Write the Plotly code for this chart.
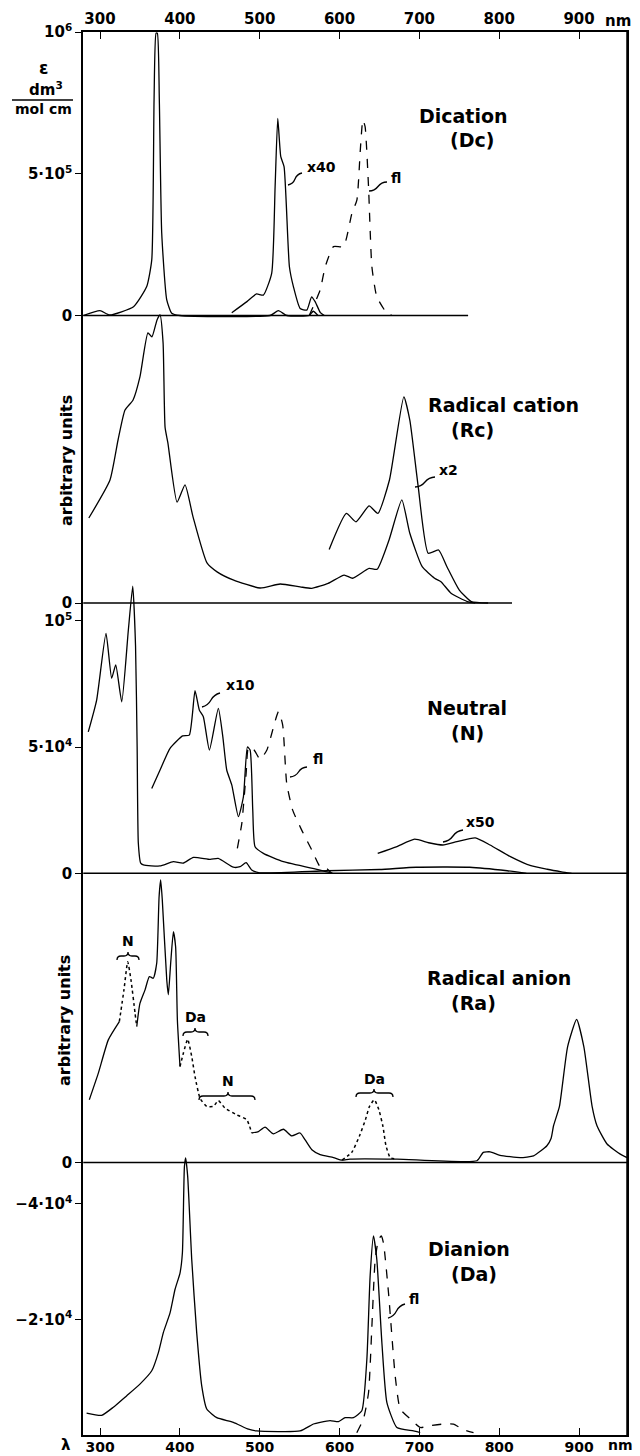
import plotly.graph_objects as go

# ---------------- data (wavelength in nm) ----------------
# Dication (Dc): epsilon in dm3/(mol cm)
DC_NM = [279, 300, 312, 342, 358.5, 364.8, 367.7, 370.2, 371.8, 374.3, 377.3, 383.6, 389.8, 400, 513, 523.4, 534, 562, 567, 573]
DC_EPS = [0, 1.7e4, 0.2e4, 3.1e4, 10.2e4, 19.6e4, 76e4, 99.6e4, 99.6e4, 76e4, 29e4, 5.5e4, 0.8e4, 0, 0, 1.7e4, 0, 0, 1.5e4, 0]
DC_X40_NM = [465, 484, 496, 504.6, 515, 519.3, 522.6, 526.4, 530.5, 537.2, 542.2, 550.6, 559, 565, 569.4, 576, 581]
DC_X40_EPS = [1e4, 4.9e4, 7.6e4, 7.2e4, 14.9e4, 45.4e4, 69.5e4, 56e4, 52.5e4, 17.2e4, 10.2e4, 2.5e4, 1.9e4, 6.6e4, 4.9e4, 1e4, 0]
DC_FL_NM = [562, 575.7, 582, 592.4, 605, 615.4, 621.7, 626, 629.2, 632, 636.3, 640.5, 646.7, 659.3, 665.6]
DC_FL_EPS = [0, 9e4, 17.2e4, 24.3e4, 24.3e4, 36e4, 40.7e4, 58.4e4, 69e4, 66.6e4, 45.4e4, 17.2e4, 6.6e4, 0.8e4, 0]
DC_BASE_NM = [279, 761]

# Radical cation (Rc): arbitrary units
RC_NM = [286, 312.5, 322.6, 331.3, 341.4, 350, 360, 365, 371.4, 375.2, 379, 381.5, 385, 396.5, 406.5, 416.5, 434, 446.6,
         466.7, 500.5, 525.6, 550.6, 565, 585.7, 605.8, 616.4, 637, 647, 662, 678, 688, 703.5, 719, 727, 739.6, 760, 770]
RC_VAL = [29.5, 42.7, 56.6, 67, 70.5, 78.5, 93.8, 92.4, 98.3, 100, 90.3, 61, 55.6, 35, 41, 29.9, 13.9, 10.8,
          8, 5.2, 6.6, 5.6, 5.1, 6.8, 9.7, 8.6, 12, 11.7, 21.9, 35.8, 24.2, 12.6, 8.6, 7.4, 3.4, 0.5, 0]
RC_X2_NM = [587, 608.5, 620.5, 637, 648, 662.5, 680.5, 688, 698.5, 711, 724, 734.5, 750, 765, 786]
RC_X2_VAL = [18.6, 31.1, 28.2, 33.7, 31.1, 42.7, 71.6, 63.5, 40.4, 17.3, 18.4, 12.6, 4.5, 0.5, 0]
RC_BASE_NM = [279, 816]

# Neutral (N): epsilon
N_NM = [285.3, 295.8, 307.5, 314.6, 319.7, 327.2, 335.5, 341, 344.5, 346.5, 348, 351, 354.3, 375, 391.9, 404, 417, 438, 448,
        467, 475.4, 483, 490, 500, 584, 650, 696, 763, 810, 834]
N_EPS = [5.6e4, 6.86e4, 9.5e4, 7.72e4, 8.25e4, 6.79e4, 9.63e4, 11.37e4, 9e4, 5e4, 1.19e4, 0.4e4, 0.33e4, 0.29e4, 0.46e4, 0.4e4, 0.63e4, 0.55e4, 0.59e4,
         0.24e4, 0.26e4, 0.42e4, 0.13e4, 0.02e4, 0.1e4, 0.15e4, 0.24e4, 0.24e4, 0.1e4, 0]
N_X10_NM = [364.8, 375.2, 387.7, 403.5, 411.8, 419, 424.4, 429.4, 437, 448.2, 453.8, 458.7, 465, 473.3, 479.6, 484.6, 488,
            491.3, 494.2, 504.6, 529.6, 575.7, 591.5]
N_X10_EPS = [3.36e4, 4.09e4, 4.95e4, 5.44e4, 5.47e4, 7.23e4, 6.46e4, 6.2e4, 4.88e4, 6.53e4, 5.41e4, 4.09e4, 3.5e4, 2.24e4,
             3.03e4, 5.0e4, 4.88e4, 2.5e4, 1.05e4, 0.79e4, 0.46e4, 0.13e4, 0]
N_FL_NM = [472, 477.6, 483, 486, 493, 500.5, 509, 523.5, 528.8, 533.8, 541.3, 552.6, 565.3, 575.7, 583.7, 590]
N_FL_EPS = [0.99e4, 1.98e4, 3.96e4, 5e4, 4.88e4, 4.51e4, 4.88e4, 6.4e4, 5.87e4, 3.56e4, 2.5e4, 1.71e4, 0.92e4, 0.26e4, 0.2e4, 0]
N_X50_NM = [647.8, 671, 694, 711.6, 729.3, 747, 770, 788.5, 814, 839.6, 860, 878, 890.6]
N_X50_EPS = [0.79e4, 1.05e4, 1.35e4, 1.21e4, 1.12e4, 1.25e4, 1.4e4, 1.12e4, 0.66e4, 0.3e4, 0.16e4, 0.06e4, 0]
N_BASE_NM = [279, 960]

# Radical anion (Ra): arbitrary units; solid = Ra, dotted = N / Da contributions
RA_A_NM = [286.6, 297.9, 310.4, 324.2]
RA_A_VAL = [21.7, 30.9, 42.4, 48.7]
RA_B_NM = [346, 350, 356.4, 361.8, 366.7, 371, 374, 376, 378, 383.6, 385.6, 388.5, 391.9, 394.7, 396.9, 400.2]
RA_B_VAL = [47, 55, 59.7, 64.3, 63.7, 68.9, 91.9, 97.7, 90.8, 63.1, 58, 68.9, 79.8, 74.6, 49.3, 33.2]
RA_C_NM = [490, 498.4, 506.7, 517.2, 529.7, 540.1, 550.6, 556.9, 565.3, 575.7, 592.4, 603, 613, 672, 772, 780, 788.7, 801,
           826.3, 843, 859.7, 865, 868, 875.4, 885.6, 896.9, 906, 916.3, 922.4, 935, 951.6, 960]
RA_C_VAL = [10.2, 10.7, 12.2, 9.9, 11.5, 9.2, 10.2, 7.8, 4.4, 2.7, 1.7, 0.8, 1.2, 1.2, 0.6, 3.5, 3.7, 2.5,
            1.7, 2.3, 5.8, 8.4, 12.7, 19.4, 40, 49.5, 40, 19.4, 12.7, 6.4, 2.9, 1.7]
RA_N1_NM = [324.2, 330, 334.7, 338.8, 343.9, 346]
RA_N1_VAL = [48.7, 59.7, 69.4, 63.1, 51.6, 47]
RA_DA1_NM = [400.2, 404.4, 409.8, 414.9, 419, 425.3, 433.7, 442, 448.2, 456.5, 471.2, 483.8, 490]
RA_DA1_VAL = [33.2, 37.8, 42.6, 36.6, 29.7, 22.2, 19.4, 19.4, 21.4, 18.8, 16.5, 14.8, 10.2]
RA_DA2_NM = [603, 615.3, 624.7, 632.4, 637.5, 643.6, 649.3, 654.4, 658, 663.4, 669.7]
RA_DA2_VAL = [0.8, 3.5, 9, 14.8, 19.4, 21.7, 18.2, 12.4, 6, 1.7, 1.2]
RA_BASE_NM = [279, 960]

# Dianion (Da): epsilon
DA_NM = [283.2, 302, 316.7, 333.5, 350, 364.8, 373, 379.3, 387.7, 394, 400.2, 403.2, 405.7, 407.3, 409.8, 414.9, 421.1,
         427.4, 433.7, 446.2, 467, 485.9, 496.3, 550.6, 567.3, 575.7, 588.2, 598.7, 607, 617.4, 627.9, 634.2, 638.3,
         642.5, 646.7, 653, 659.3, 671.8, 692.6, 701]
DA_EPS = [0.38e4, 0.34e4, 0.48e4, 0.68e4, 0.88e4, 1.11e4, 1.42e4, 1.77e4, 2.11e4, 2.52e4, 2.8e4, 3.15e4, 4.64e4, 4.79e4,
          4.47e4, 3.03e4, 1.77e4, 0.85e4, 0.45e4, 0.3e4, 0.22e4, 0.1e4, 0.07e4, 0.07e4, 0.19e4, 0.22e4, 0.25e4, 0.23e4,
          0.3e4, 0.3e4, 0.42e4, 1.31e4, 2.75e4, 3.44e4, 3.03e4, 1.6e4, 0.56e4, 0.13e4, 0.07e4, 0.04e4]
DA_FL_NM = [621.6, 630, 636.3, 640.5, 644.6, 648.8, 652.2, 655, 661.3, 669.7, 676, 688.5, 701, 713.5, 730.2, 742.7, 755.3, 767.8]
DA_FL_EPS = [0.04e4, 0.28e4, 0.73e4, 1.88e4, 3.03e4, 3.38e4, 3.44e4, 3.32e4, 2.46e4, 1.02e4, 0.45e4, 0.28e4, 0.13e4,
             0.16e4, 0.19e4, 0.19e4, 0.09e4, 0.04e4]

X_TICKS = [300, 400, 500, 600, 700, 800, 900]
X_RANGE = [278.7, 960]

# ---------------- layout helpers ----------------
W, H_FIG = 640, 1456
L, R, T, B = 83, 627, 32, 1435
PW, PH = R - L, B - T
FONT = "DejaVu Sans"


def panel(zero_px, ref_px, ref_val, top_px, bot_px):
    k = ref_val / (zero_px - ref_px)
    return ([(B - bot_px) / PH, (B - top_px) / PH],
            [(zero_px - bot_px) * k, (zero_px - top_px) * k])


def px(x, y):
    return (x - L) / PW, (B - y) / PH


DOM_DC, RNG_DC = panel(315.5, 32, 1e6, 32, 318)
DOM_RC, RNG_RC = panel(603, 315, 100, 311, 605)
DOM_N, RNG_N = panel(873.3, 620.7, 1e5, 582, 875)
DOM_RA, RNG_RA = panel(1162.5, 873.3, 100, 870, 1164)
DOM_DA, RNG_DA = panel(1435, 1319.3, 2e4, 1153, 1435)

fig = go.Figure()


def line(x, y, yaxis, dash="solid", width=1.3):
    fig.add_trace(go.Scatter(x=x, y=y, xaxis="x", yaxis=yaxis, mode="lines",
                             line=dict(color="black", width=width, dash=dash, shape="spline", smoothing=0.5),
                             showlegend=False, hoverinfo="skip"))


def base(xs, yaxis):
    fig.add_trace(go.Scatter(x=xs, y=[0] * len(xs), xaxis="x", yaxis=yaxis, mode="lines",
                             line=dict(color="black", width=1.4), showlegend=False, hoverinfo="skip"))


# Dc
base(DC_BASE_NM, "y")
line(DC_NM, DC_EPS, "y")
line(DC_X40_NM, DC_X40_EPS, "y")
line(DC_FL_NM, DC_FL_EPS, "y", dash="dash")
# Rc
base(RC_BASE_NM, "y2")
line(RC_NM, RC_VAL, "y2")
line(RC_X2_NM, RC_X2_VAL, "y2")
# N
base(N_BASE_NM, "y3")
line(N_NM, N_EPS, "y3")
line(N_X10_NM, N_X10_EPS, "y3")
line(N_FL_NM, N_FL_EPS, "y3", dash="dash")
line(N_X50_NM, N_X50_EPS, "y3")
# Ra
base(RA_BASE_NM, "y4")
line(RA_A_NM, RA_A_VAL, "y4")
line(RA_B_NM, RA_B_VAL, "y4")
line(RA_C_NM, RA_C_VAL, "y4")
line(RA_N1_NM, RA_N1_VAL, "y4", dash="dot", width=1.5)
line(RA_DA1_NM, RA_DA1_VAL, "y4", dash="dot", width=1.5)
line(RA_DA2_NM, RA_DA2_VAL, "y4", dash="dot", width=1.5)
# Da
line(DA_NM, DA_EPS, "y5")
line(DA_FL_NM, DA_FL_EPS, "y5", dash="dash")
# dummy trace so the top axis is drawn
fig.add_trace(go.Scatter(x=[None], y=[None], xaxis="x2", yaxis="y", showlegend=False, hoverinfo="skip"))

tickfont = dict(family=FONT, size=15, color="black", weight="bold")


def yax(dom, rng, vals, text):
    return dict(domain=dom, range=rng, anchor="x", showline=True, linecolor="black", linewidth=1.5,
                mirror=True, ticks="outside", ticklen=6, tickwidth=1.4, tickcolor="black",
                tickvals=vals, ticktext=text, tickfont=tickfont, showgrid=False, zeroline=False,
                fixedrange=True, automargin=False)


xcommon = dict(range=X_RANGE, tickvals=X_TICKS, ticktext=[str(v) for v in X_TICKS], ticks="inside",
               ticklen=7, tickwidth=1.4, tickcolor="black", showline=True, linecolor="black", linewidth=1.5,
               showgrid=False, zeroline=False, automargin=False)

fig.update_layout(
    width=W, height=H_FIG, margin=dict(l=L, r=W - R, t=T, b=H_FIG - B, autoexpand=False),
    paper_bgcolor="white", plot_bgcolor="rgba(0,0,0,0)",
    xaxis=dict(domain=[0, 1], anchor="y5", side="bottom", tickfont=dict(tickfont, size=14),
               ticklabelstandoff=-2, **xcommon),
    xaxis2=dict(domain=[0, 1], anchor="y", side="top", overlaying="x", matches="x", tickfont=tickfont,
                **xcommon),
    yaxis=yax(DOM_DC, RNG_DC, [0, 5e5, 1e6], ["0", "5·10<sup>5</sup>", "10<sup>6</sup>"]),
    yaxis2=yax(DOM_RC, RNG_RC, [0], ["0"]),
    yaxis3=yax(DOM_N, RNG_N, [0, 5e4, 1e5], ["0", "5·10<sup>4</sup>", "10<sup>5</sup>"]),
    yaxis4=yax(DOM_RA, RNG_RA, [0], ["0"]),
    yaxis5=yax(DOM_DA, RNG_DA, [2e4, 4e4], ["−2·10<sup>4</sup>", "−4·10<sup>4</sup>"]),
)

annots = []
shapes = []


def text(t, x, y, size=15, anchor="center", angle=0):
    xp, yp = px(x, y)
    annots.append(dict(text=t, x=xp, y=yp, xref="paper", yref="paper", xanchor=anchor, yanchor="middle",
                       showarrow=False, textangle=angle,
                       font=dict(family=FONT, size=size, color="black", weight="bold")))


def squiggle(x0, y0, x1, y1, amp=2.5):
    mx, my = (x0 + x1) / 2, (y0 + y1) / 2
    dx, dy = x1 - x0, y1 - y0
    n = (dx * dx + dy * dy) ** 0.5
    nx, ny = -dy / n * amp, dx / n * amp
    c1 = ((x0 + mx) / 2 + nx, (y0 + my) / 2 + ny)
    c2 = ((mx + x1) / 2 - nx, (my + y1) / 2 - ny)
    pts = [(x0, y0), c1, (mx, my), c2, (x1, y1)]
    pp = [px(*p) for p in pts]
    path = "M {:.5f},{:.5f} Q {:.5f},{:.5f} {:.5f},{:.5f} Q {:.5f},{:.5f} {:.5f},{:.5f}".format(
        pp[0][0], pp[0][1], pp[1][0], pp[1][1], pp[2][0], pp[2][1], pp[3][0], pp[3][1], pp[4][0], pp[4][1])
    shapes.append(dict(type="path", path=path, xref="paper", yref="paper", line=dict(color="black", width=1.3)))


def brace(x0, x1, xm, y, h=4):
    pts = [(x0, y + h), (x0, y), (x0 + h, y), (xm - h, y), (xm, y), (xm, y - h), (xm, y), (xm + h, y),
           (x1 - h, y), (x1, y), (x1, y + h)]
    pp = [px(*p) for p in pts]
    f = lambda p: "{:.5f},{:.5f}".format(*p)
    path = ("M " + f(pp[0]) + " Q " + f(pp[1]) + " " + f(pp[2]) + " L " + f(pp[3]) + " Q " + f(pp[4]) + " " + f(pp[5])
            + " Q " + f(pp[6]) + " " + f(pp[7]) + " L " + f(pp[8]) + " Q " + f(pp[9]) + " " + f(pp[10]))
    shapes.append(dict(type="path", path=path, xref="paper", yref="paper", line=dict(color="black", width=1.3)))


# panel titles
text("Dication", 417, 116, size=19, anchor="left")
text("(Dc)", 448, 140, size=19, anchor="left")
text("Radical cation", 426, 405, size=19, anchor="left")
text("(Rc)", 449, 430, size=19, anchor="left")
text("Neutral", 425, 708, size=19, anchor="left")
text("(N)", 449, 733, size=19, anchor="left")
text("Radical anion", 425, 978, size=19, anchor="left")
text("(Ra)", 449, 1003, size=19, anchor="left")
text("Dianion", 426, 1249, size=19, anchor="left")
text("(Da)", 449, 1274, size=19, anchor="left")

# multiplier / fl labels with squiggle leaders
squiggle(288, 185, 302, 173); text("x40", 305, 167, size=14, anchor="left")
squiggle(369, 191, 387, 182); text("fl", 389, 178, size=14, anchor="left")
squiggle(415, 487, 435, 477); text("x2", 437, 470, size=14, anchor="left")
squiggle(202, 707, 220, 693); text("x10", 224, 685, size=14, anchor="left")
squiggle(290, 777, 307, 767); text("fl", 311, 759, size=14, anchor="left")
squiggle(443, 842, 463, 830); text("x50", 464, 822, size=14, anchor="left")
squiggle(388, 1318, 405, 1304); text("fl", 407, 1299, size=14, anchor="left")

# braces in radical anion panel
brace(117, 139, 128, 956); text("N", 128, 941, size=14)
brace(183, 208, 195, 1032); text("Da", 195, 1017, size=14)
brace(199, 255, 228, 1096); text("N", 228, 1081, size=14)
brace(356, 393, 374, 1093); text("Da", 374, 1079, size=14)

# axis titles
text("arbitrary units", 66, 461, size=16, angle=-90)
text("arbitrary units", 64, 1021, size=16, angle=-90)
text("ε", 43, 68, size=17)
text("dm<sup>3</sup>", 46, 89, size=15)
text("mol cm", 43, 109, size=14)
p0, p1 = px(12, 100), px(73, 100)
shapes.append(dict(type="line", x0=p0[0], y0=p0[1], x1=p1[0], y1=p1[1], xref="paper", yref="paper",
                   line=dict(color="black", width=1.4)))
# right frame line
shapes.append(dict(type="line", x0=1, y0=0, x1=1, y1=1, xref="paper", yref="paper",
                   line=dict(color="black", width=1.5)))
text("nm", 618, 21, size=15)
text("nm", 620, 1445, size=14)
text("λ", 66, 1445, size=15)

fig.update_layout(annotations=annots, shapes=shapes)
fig.write_html("out.html", config={"displayModeBar": False},
               post_script="document.body.style.margin='0';document.body.style.overflow='hidden';")
